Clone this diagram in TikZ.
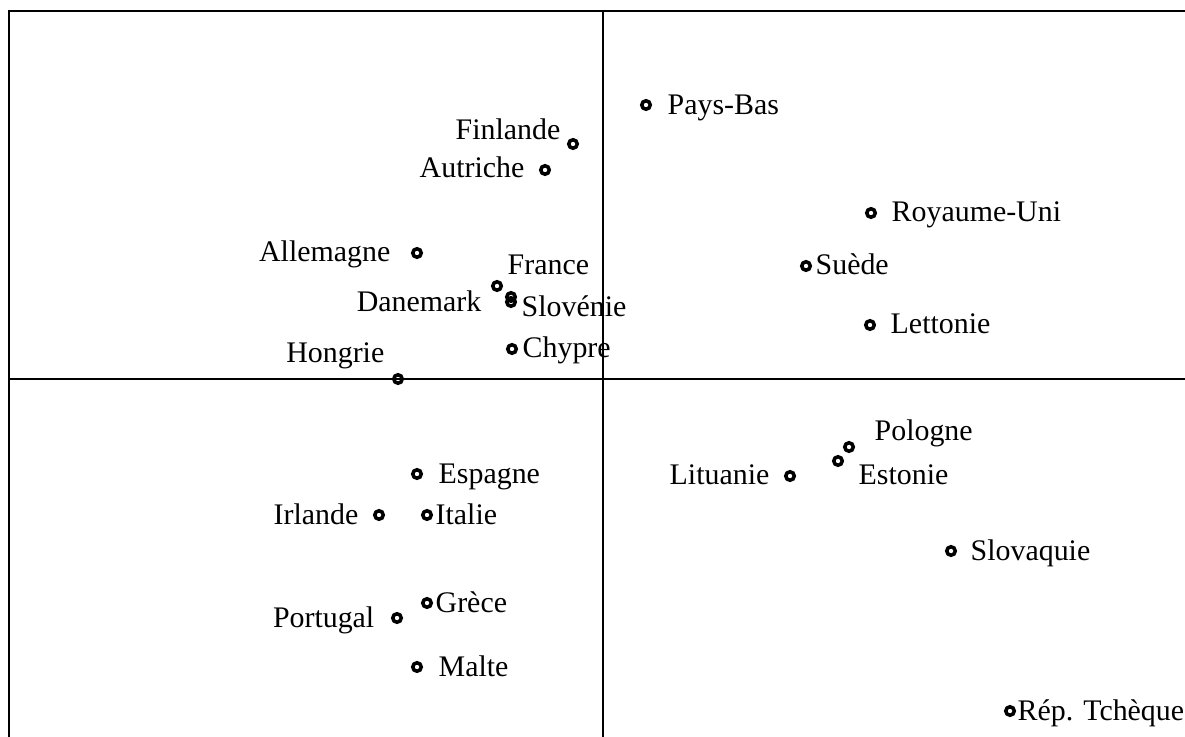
\documentclass[tikz,border=0pt]{standalone}
\usepackage{fontspec}
\setmainfont{Liberation Serif}
\usetikzlibrary{positioning}

\begin{document}
\begin{tikzpicture}[x=0.01cm, y=-0.01cm,
    pays/.style={circle, draw=black, line width=1pt, inner sep=0pt, minimum size=0.085cm},
    nom/.style={font=\fontsize{8.5}{10}\selectfont, inner sep=0pt},
    axe/.style={line width=0.7pt}]
  \useasboundingbox (0,0) rectangle (1185,737);

  % Frame and axes
  \coordinate (cadreBG) at (9,737);
  \coordinate (cadreHG) at (9,11);
  \coordinate (cadreHD) at (1185,11);
  \coordinate (axeG) at (9,379);
  \coordinate (axeD) at (1185,379);
  \coordinate (axeH) at (603,11);
  \coordinate (axeB) at (603,737);
  \draw[axe] (cadreBG) -- (cadreHG) -- (cadreHD);
  \draw[axe] (axeG) -- (axeD);
  \draw[axe] (axeH) -- (axeB);

  % Upper left quadrant
  \node[pays] (fin) at (573,144) {};
  \node[nom, anchor=base east] (finT) at (561,140) {Finlande};
  \node[pays] (aut) at (545,170) {};
  \node[nom, anchor=base east] (autT) at (525,178) {Autriche};
  \node[pays] (all) at (417,253) {};
  \node[nom, anchor=base east] (allT) at (391,262) {Allemagne};
  \node[pays] (fra) at (497,286) {};
  \node[nom, anchor=base west] (fraT) at (507,275) {France};
  \node[pays] (dan) at (511,297) {};
  \node[nom, anchor=base east] (danT) at (482,312) {Danemark};
  \node[pays] (slo) at (511,302) {};
  \node[nom, anchor=base west] (sloT) at (521,317) {Slovénie};
  \node[pays] (chy) at (512,349) {};
  \node[nom, anchor=base west] (chyT) at (522,358) {Chypre};
  \node[pays] (hon) at (398,379) {};
  \node[nom, anchor=base east] (honT) at (385,363) {Hongrie};

  % Upper right quadrant
  \node[pays] (pbs) at (646,105) {};
  \node[nom, anchor=base west] (pbsT) at (667,115) {Pays-Bas};
  \node[pays] (ruk) at (871,213) {};
  \node[nom, anchor=base west] (rukT) at (891,222) {Royaume-Uni};
  \node[pays] (sue) at (806,266) {};
  \node[nom, anchor=base west] (sueT) at (815,275) {Suède};
  \node[pays] (let) at (870,325) {};
  \node[nom, anchor=base west] (letT) at (890,334) {Lettonie};

  % Lower right quadrant
  \node[pays] (pol) at (849,447) {};
  \node[nom, anchor=base west] (polT) at (874,440) {Pologne};
  \node[pays] (est) at (838,461) {};
  \node[nom, anchor=base west] (estT) at (858,485) {Estonie};
  \node[pays] (lit) at (790,476) {};
  \node[nom, anchor=base east] (litT) at (770,485) {Lituanie};
  \node[pays] (svq) at (951,551) {};
  \node[nom, anchor=base west] (svqT) at (970,560) {Slovaquie};
  \node[pays] (tch) at (1010,711) {};
  \node[nom, anchor=base west] (tchT) at (1017,720) {Rép. Tchèque};

  % Lower left quadrant
  \node[pays] (esp) at (417,474) {};
  \node[nom, anchor=base west] (espT) at (438,483) {Espagne};
  \node[pays] (irl) at (379,515) {};
  \node[nom, anchor=base east] (irlT) at (359,524) {Irlande};
  \node[pays] (ita) at (427,515) {};
  \node[nom, anchor=base west] (itaT) at (435,524) {Italie};
  \node[pays] (gre) at (427,603) {};
  \node[nom, anchor=base west] (greT) at (435,612) {Grèce};
  \node[pays] (por) at (397,618) {};
  \node[nom, anchor=base east] (porT) at (375,627) {Portugal};
  \node[pays] (mal) at (417,667) {};
  \node[nom, anchor=base west] (malT) at (438,676) {Malte};
\end{tikzpicture}
\end{document}
